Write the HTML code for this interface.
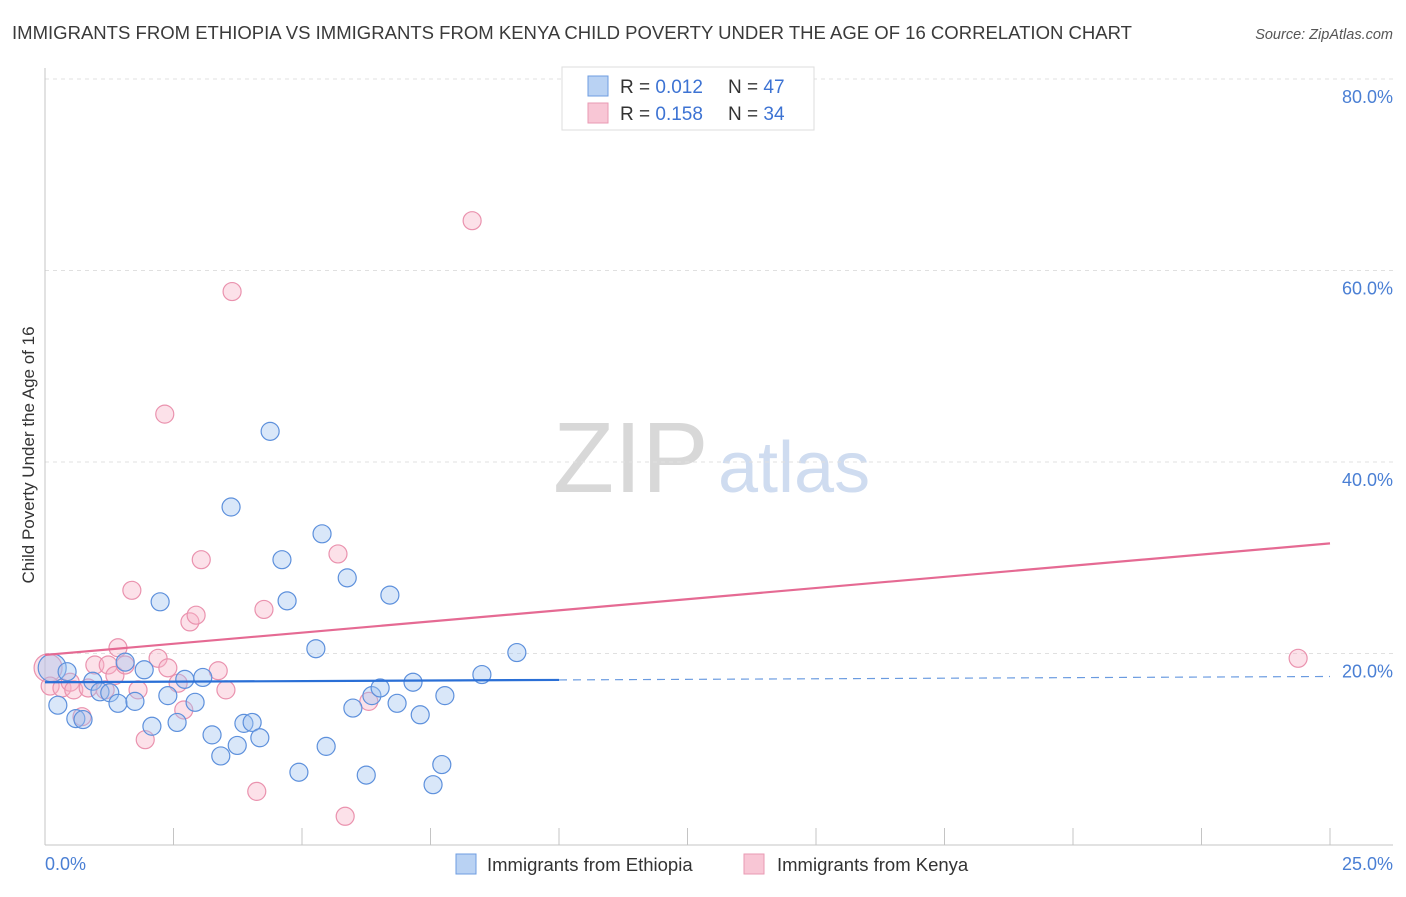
<!DOCTYPE html>
<html><head><meta charset="utf-8"><style>
body{margin:0;background:#fff;font-family:"Liberation Sans",sans-serif;}
svg text{font-family:"Liberation Sans",sans-serif;}
</style></head><body>
<svg id="chart" width="1406" height="892" xmlns="http://www.w3.org/2000/svg">
<text x="12" y="39" font-size="18.6" fill="#3a3a3a" textLength="1120" lengthAdjust="spacingAndGlyphs">IMMIGRANTS FROM ETHIOPIA VS IMMIGRANTS FROM KENYA CHILD POVERTY UNDER THE AGE OF 16 CORRELATION CHART</text>
<text x="1393" y="39" font-size="14.5" font-style="italic" fill="#555" text-anchor="end">Source: ZipAtlas.com</text>
<g>
<text x="553" y="492" font-family="Liberation Serif" font-size="100" fill="#d8d8d8">ZIP</text>
<text x="718" y="492" font-size="72" fill="#cfdcf0">atlas</text>
</g>
<g id="grid"></g>
<g id="axes"></g>
<g id="marks"></g>
<text transform="translate(34,455) rotate(-90)" font-size="17" fill="#333" text-anchor="middle">Child Poverty Under the Age of 16</text>
<g>
<rect x="562" y="67" width="252" height="63" fill="#fff" stroke="#ddd"/>
<rect x="588" y="76" width="20" height="20" fill="#b9d2f3" stroke="#6e9ce0"/>
<rect x="588" y="103" width="20" height="20" fill="#f8c6d5" stroke="#e99ab3"/>
<text x="620" y="93" font-size="19" fill="#333">R = <tspan fill="#3d73d3">0.012</tspan></text>
<text x="728" y="93" font-size="19" fill="#333">N = <tspan fill="#3d73d3">47</tspan></text>
<text x="620" y="120" font-size="19" fill="#333">R = <tspan fill="#3d73d3">0.158</tspan></text>
<text x="728" y="120" font-size="19" fill="#333">N = <tspan fill="#3d73d3">34</tspan></text>
</g>
<g>
<rect x="456" y="854" width="20" height="20" fill="#b9d2f3" stroke="#6e9ce0"/>
<text x="487" y="871" font-size="18.5" fill="#333">Immigrants from Ethiopia</text>
<rect x="744" y="854" width="20" height="20" fill="#f8c6d5" stroke="#e99ab3"/>
<text x="777" y="871" font-size="18.5" fill="#333">Immigrants from Kenya</text>
</g>
</svg>
<script>
const yTicks=[20,40,60,80];
const yTickLabels=["20.0%","40.0%","60.0%","80.0%"];
const xTicks=[0,2.5,5,7.5,10,12.5,15,17.5,20,22.5,25];
const xEndLabels=["0.0%","25.0%"];
const ethX=[0.14,0.43,0.25,0.60,0.74,0.93,1.07,1.26,1.42,1.56,1.75,1.93,2.08,2.24,2.39,2.57,2.72,2.92,3.07,3.25,3.42,3.62,3.74,3.87,4.03,4.18,4.38,4.61,4.71,4.94,5.27,5.39,5.47,5.88,5.99,6.25,6.36,6.52,6.71,6.85,7.16,7.30,7.55,7.72,7.78,8.50,9.18];
const ethY=[18.5,18.1,14.6,13.2,13.1,17.1,16.0,15.9,14.8,19.1,15.0,18.3,12.4,25.4,15.6,12.8,17.3,14.9,17.5,11.5,9.3,35.3,10.4,12.7,12.8,11.2,43.2,29.8,25.5,7.6,20.5,32.5,10.3,27.9,14.3,7.3,15.6,16.4,26.1,14.8,17.0,13.6,6.3,8.4,15.6,17.8,20.1];
const kenX=[0.06,0.10,0.33,0.49,0.56,0.72,0.84,0.97,1.17,1.23,1.36,1.42,1.56,1.69,1.81,1.95,2.20,2.33,2.39,2.59,2.70,2.82,2.94,3.04,3.37,3.52,3.64,4.12,4.26,5.70,5.84,6.30,8.31,24.38];
const kenY=[18.5,16.6,16.4,17.0,16.2,13.4,16.4,18.8,16.2,18.8,17.7,20.6,18.8,26.6,16.2,11.0,19.5,45.0,18.5,16.9,14.1,23.3,24.0,29.8,18.2,16.2,57.8,5.6,24.6,30.4,3.0,15.0,65.2,19.5];
const ethTrend=[17.0,17.6];
const kenTrend=[19.85,31.5];
const ethSolidEnd=10.0;
const X0=45,X1=1330,Y0=845,PPY=9.575;
const sx=v=>X0+(v/25)*(X1-X0);
const sy=v=>Y0-v*PPY;
const NS="http://www.w3.org/2000/svg";
function mk(tag,attrs,parent){const e=document.createElementNS(NS,tag);for(const k in attrs)e.setAttribute(k,attrs[k]);parent.appendChild(e);return e;}
const grid=document.getElementById('grid'),axes=document.getElementById('axes'),marks=document.getElementById('marks');
yTicks.forEach((t,i)=>{
 const l=mk('line',{x1:45,x2:1393,y1:sy(t),y2:sy(t),stroke:'#e0e0e0','stroke-dasharray':'4,4'},grid);
 
 
 const tx=mk('text',{x:1393,y:sy(t)+24,'font-size':18,fill:'#4a7fd4','text-anchor':'end'},grid);
 tx.textContent=yTickLabels[i];
 
 
});
const yl=mk('line',{x1:45,x2:45,y1:68,y2:Y0,stroke:'#c4c4c4'},axes);


const xl=mk('line',{x1:45,x2:1393,y1:Y0,y2:Y0,stroke:'#c4c4c4'},axes);


xTicks.forEach(t=>{
 const l=mk('line',{x1:sx(t),x2:sx(t),y1:828,y2:Y0,stroke:'#c4c4c4'},axes);
 
 
});
const xa=mk('text',{x:45,y:870,'font-size':18,fill:'#4a7fd4'},axes);xa.textContent=xEndLabels[0];


const xb=mk('text',{x:1393,y:870,'font-size':18,fill:'#4a7fd4','text-anchor':'end'},axes);xb.textContent=xEndLabels[1];


function pts(xs,ys,fill,stroke,name){
 xs.forEach((x,i)=>{
  const c=mk('circle',{cx:sx(x),cy:sy(ys[i]),r:i===0?14:9,fill:fill,stroke:stroke,'stroke-width':1.2},marks);
  
  
 });
}
pts(kenX,kenY,'rgba(248,180,200,0.4)','#ea92ae','point-kenya');
pts(ethX,ethY,'rgba(160,195,240,0.4)','#5d90dc','point-ethiopia');
const ey=x=>ethTrend[0]+(ethTrend[1]-ethTrend[0])*x/25;
const t1=mk('line',{x1:sx(0),y1:sy(ey(0)),x2:sx(ethSolidEnd),y2:sy(ey(ethSolidEnd)),stroke:'#2a6fd6','stroke-width':2.2},marks);


const t2=mk('line',{x1:sx(ethSolidEnd),y1:sy(ey(ethSolidEnd)),x2:sx(25),y2:sy(ey(25)),stroke:'#6a9be0','stroke-width':1.2,'stroke-dasharray':'8,6'},marks);


const t3=mk('line',{x1:sx(0),y1:sy(kenTrend[0]),x2:sx(25),y2:sy(kenTrend[1]),stroke:'#e56a93','stroke-width':2.2},marks);


</script>
</body></html>
